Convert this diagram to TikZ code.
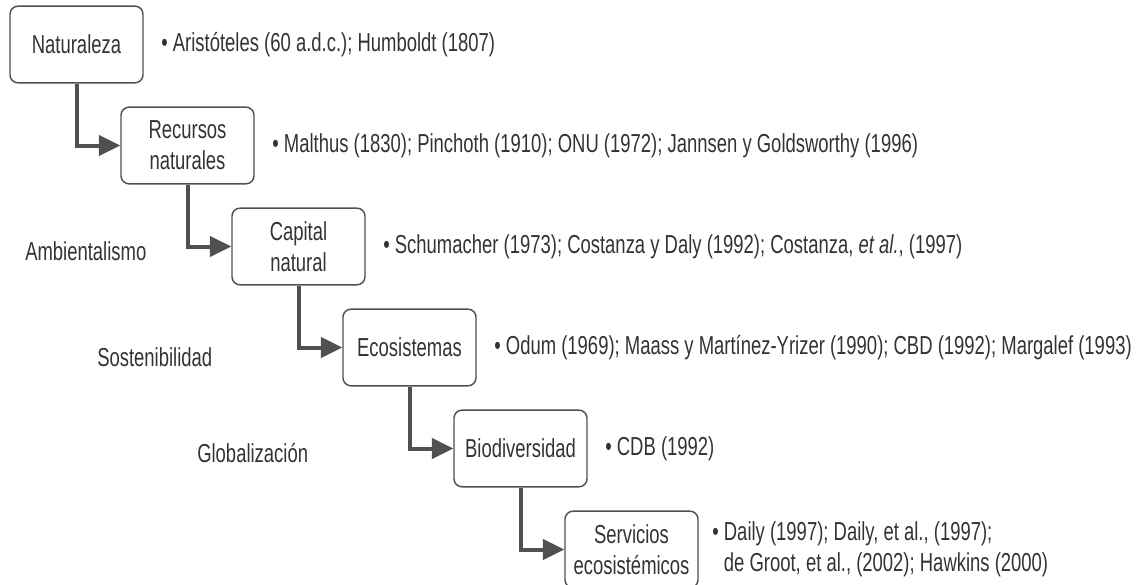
\documentclass[tikz,border=0pt]{standalone}
\usepackage{fontspec}
\setmainfont{Liberation Sans}[FakeStretch=0.71]
\usetikzlibrary{arrows.meta, positioning}
\definecolor{txtgray}{HTML}{333333}
\definecolor{linegray}{HTML}{505050}

\begin{document}
\begin{tikzpicture}[x=0.75pt, y=-0.75pt, node distance=75.75pt,
	font=\fontsize{19.5}{23}\selectfont, text=txtgray]
	\tikzstyle{concept} = [rectangle, rounded corners=6pt, minimum width=99.75pt,
	minimum height=57.5pt, align=center, draw=linegray, line width=1.1pt, inner sep=2pt]
	\tikzstyle{refs} = [anchor=west, inner sep=0pt, align=left]
	\tikzstyle{era} = [anchor=west, inner sep=0pt]
	\tikzstyle{arrow} = [draw=linegray, line width=3pt, -{Triangle[length=16pt, width=15pt]}]
	\useasboundingbox (0,0) rectangle (1142,585);
	% concept boxes
	\node (naturaleza) [concept] at (76.5,44.5) {Naturaleza};
	\node (recursos) [concept, below of=naturaleza, xshift=83.25pt] {Recursos\\naturales};
	\node (capital) [concept, below of=recursos, xshift=83.25pt] {Capital\\natural};
	\node (ecosistemas) [concept, below of=capital, xshift=83.25pt] {Ecosistemas};
	\node (biodiversidad) [concept, below of=ecosistemas, xshift=83.25pt] {Biodiversidad};
	\node (servicios) [concept, below of=biodiversidad, xshift=83.25pt] {Servicios\\ecosistémicos};
	% references
	\node (refNaturaleza) [refs, right=13pt of naturaleza] {\textbullet\ Aristóteles (60 a.d.c.); Humboldt (1807)};
	\node (refRecursos) [refs, right=13pt of recursos] {\textbullet\ Malthus (1830); Pinchoth (1910); ONU (1972); Jannsen y Goldsworthy (1996)};
	\node (refCapital) [refs, right=13pt of capital] {\textbullet\ Schumacher (1973); Costanza y Daly (1992); Costanza, \textit{et al.}, (1997)};
	\node (refEcosistemas) [refs, right=13pt of ecosistemas] {\textbullet\ Odum (1969); Maass y Martínez-Yrizer (1990); CBD (1992); Margalef (1993)};
	\node (refBiodiversidad) [refs, right=13pt of biodiversidad] {\textbullet\ CDB (1992)};
	\node (refServicios) [refs, right=10pt of servicios] {\textbullet\ Daily (1997); Daily, et al., (1997);\\\hphantom{\textbullet\ }de Groot, et al., (2002); Hawkins (2000)};
	% eras
	\node (ambientalismo) [era] at (25,251) {Ambientalismo};
	\node (sostenibilidad) [era] at (97,357) {Sostenibilidad};
	\node (globalizacion) [era] at (197,453) {Globalización};
	% connectors
	\draw [arrow] (naturaleza) |- (recursos);
	\draw [arrow] (recursos) |- (capital);
	\draw [arrow] (capital) |- (ecosistemas);
	\draw [arrow] (ecosistemas) |- (biodiversidad);
	\draw [arrow] (biodiversidad) |- (servicios);
\end{tikzpicture}
\end{document}
